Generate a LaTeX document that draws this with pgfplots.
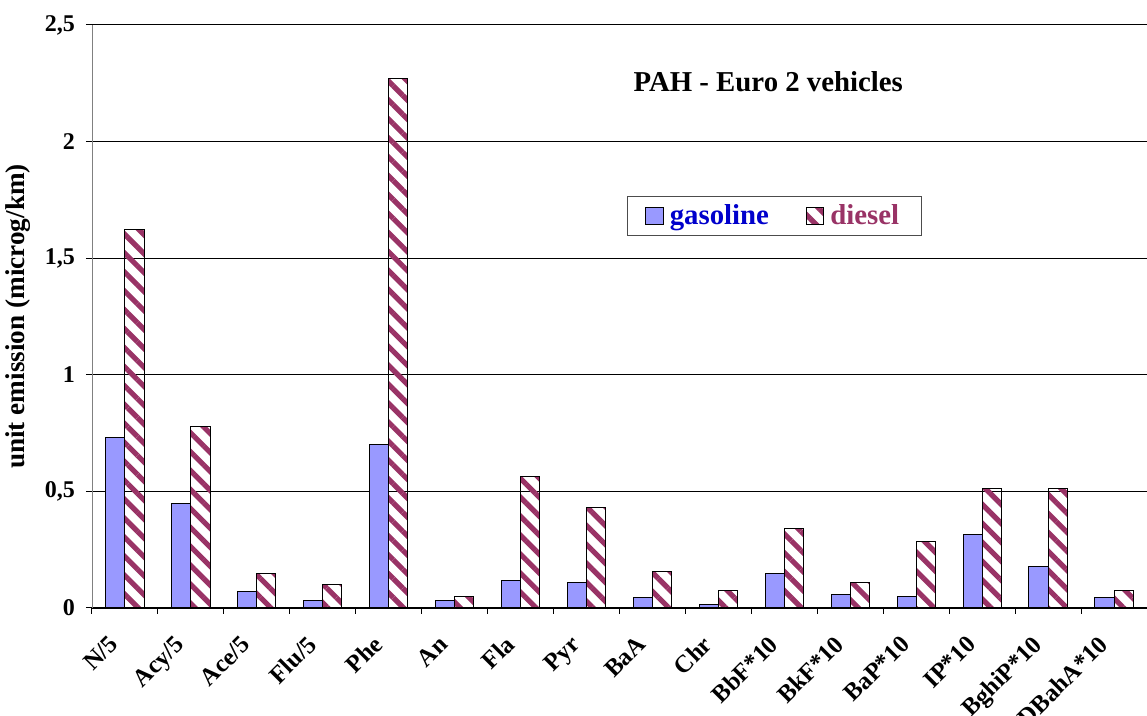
\documentclass[border=0pt]{standalone}
\usepackage{fontspec}
\setmainfont{Liberation Serif}
\usepackage{pgfplots}
\pgfplotsset{compat=1.18}
\usetikzlibrary{patterns.meta}
\definecolor{gas}{HTML}{9999FF}
\definecolor{dies}{HTML}{993366}
\definecolor{gastext}{HTML}{0000CC}
\begin{document}
\begin{tikzpicture}
\begin{axis}[name=ax, scale only axis, width=527.5pt, height=291.5pt,
  xmin=-0.5, xmax=15.5, ymin=0, ymax=2.5,
  axis x line=bottom, axis y line=left, axis line style={-},
  y axis line style={draw=gray},
  tick align=outside, major tick length=3pt,
  tick style={black, line width=0.5pt},
  ytick={0,0.5,1,1.5,2,2.5}, yticklabels={0,{0,5},1,{1,5},2,{2,5}},
  yticklabel style={font=\fontsize{12}{14}\selectfont\bfseries, xshift=-2pt},
  xtick={-0.5,0.5,1.5,2.5,3.5,4.5,5.5,6.5,7.5,8.5,9.5,10.5,11.5,12.5,13.5,14.5,15.5},
  x tick label as interval,
  xticklabels={N/5,Acy/5,Ace/5,Flu/5,Phe,An,Fla,Pyr,BaA,Chr,BbF*10,BkF*10,BaP*10,IP*10,BghiP*10,DBahA*10},
  xticklabel style={font=\fontsize{12.3}{14}\selectfont\bfseries, rotate=45, anchor=north east, inner sep=1pt, xshift=-12pt},
  ymajorgrids, grid style={black, line width=0.5pt},
  ylabel={unit emission (microg/km)},
  ylabel style={font=\fontsize{13.6}{15}\selectfont\bfseries, at={(axis description cs:-0.0701,0.5)}, anchor=center},
  ybar, bar width=0.29,
  legend columns=2,
  legend style={at={(rel axis cs:0.507,0.707)}, anchor=north west, draw=gray!60!black, line width=0.5pt,
    font=\fontsize{14.4}{16}\selectfont\bfseries, inner xsep=9pt, inner ysep=2pt,
    /tikz/every even column/.append style={column sep=16.5pt}},
  legend image code/.code={\draw[#1, line width=0.5pt] (0pt,-4.3pt) rectangle (8.7pt,4.4pt); \path (9.7pt,0pt);},
]
\addplot[fill=gas, draw=black, line width=0.5pt, bar shift=-0.145] coordinates {
(0,0.73) (1,0.45) (2,0.07) (3,0.03) (4,0.70) (5,0.034) (6,0.116) (7,0.111)
(8,0.043) (9,0.017) (10,0.146) (11,0.056) (12,0.051) (13,0.317) (14,0.18) (15,0.047)};
\addplot[draw=black, line width=0.5pt, bar shift=0.145,
  pattern={Lines[angle=-45, distance=6.7pt, line width=2.6pt]}, pattern color=dies] coordinates {
(0,1.625) (1,0.78) (2,0.15) (3,0.10) (4,2.27) (5,0.048) (6,0.566) (7,0.429)
(8,0.155) (9,0.073) (10,0.343) (11,0.111) (12,0.287) (13,0.512) (14,0.512) (15,0.073)};
\legend{\textcolor{gastext}{gasoline},\textcolor{dies}{diesel}}
\node[font=\fontsize{14.4}{16}\selectfont\bfseries] at (rel axis cs:0.641,0.902) {PAH - Euro 2 vehicles};
\end{axis}
\pgfresetboundingbox
\useasboundingbox ([xshift=-46pt,yshift=-54pt]ax.south west) rectangle ([yshift=12.5pt]ax.north east);
\end{tikzpicture}
\end{document}
